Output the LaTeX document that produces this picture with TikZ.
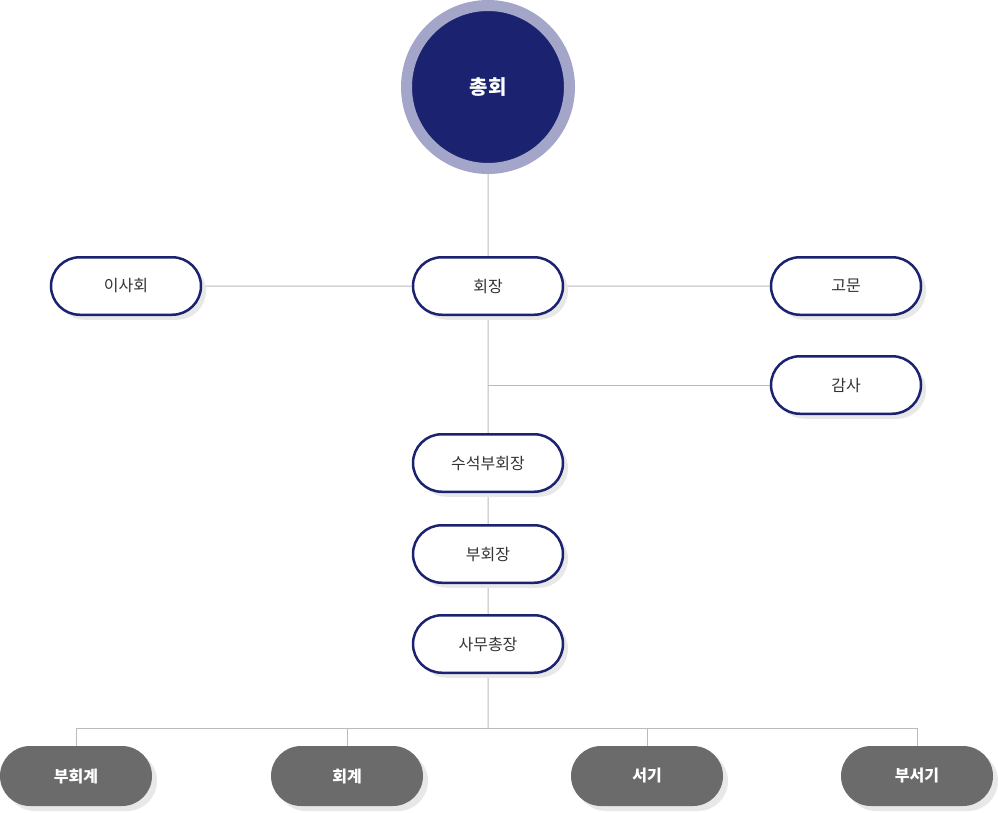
\documentclass[tikz,border=0pt]{standalone}
\usepackage{fontspec}
\setmainfont{Noto Sans CJK KR}
\usetikzlibrary{shapes.misc,shadows,backgrounds}

\definecolor{navy}{HTML}{1B2270}
\definecolor{ringblue}{HTML}{A3A6C8}
\definecolor{pillgray}{HTML}{6B6B6B}
\definecolor{linegray}{HTML}{BBBBBB}
\definecolor{shadowgray}{HTML}{E8E8E8}
\definecolor{textgray}{HTML}{333333}

\tikzset{
  pill/.style={rounded rectangle,minimum width=150pt,minimum height=57.5pt,
    inner sep=0pt,general shadow={shadow xshift=5pt,shadow yshift=-5pt,fill=shadowgray}},
  whitepill/.style={pill,draw=navy,line width=2.5pt,fill=white,text=textgray,font=\fontsize{16}{18}\selectfont},
  graypill/.style={pill,minimum width=152pt,minimum height=60pt,fill=pillgray,text=white,font=\fontsize{16}{18}\selectfont\bfseries},
  link/.style={draw=linegray,line width=1pt}
}

\begin{document}
\begin{tikzpicture}[x=1pt,y=-1pt]
                \useasboundingbox(0,0)rectangle(998,812);
                \node[circle,inner sep=0pt,minimum size=163pt,draw=ringblue,line width=11pt,fill=navy,
                      text=white,font=\fontsize{20}{22}\selectfont\bfseries](chonghoe)at(488,87){총회};
                \node[whitepill](isahoe)at(126,286){이사회};
                \node[whitepill](hoejang)at(488,286){회장};
                \node[whitepill](gomun)at(846,286){고문};
                \node[whitepill](gamsa)at(846,385){감사};
                \node[whitepill](suseok)at(488,463){수석부회장};
                \node[whitepill](buhoejang)at(488,554){부회장};
                \node[whitepill](samu)at(488,644){사무총장};
                \node[graypill](buhoegye)at(76,776){부회계};
                \node[graypill](hoegye)at(347,776){회계};
                \node[graypill](seogi)at(647,776){서기};
                \node[graypill](buseogi)at(917,776){부서기};
                \coordinate(bus)at(488,728);
                \begin{scope}[on background layer]
                    \draw[link](chonghoe)--(hoejang);
                    \draw[link](isahoe)--(hoejang)--(gomun);
                    \draw[link](hoejang)--(suseok)--(buhoejang)--(samu)--(bus);
                    \draw[link](gamsa)--(gamsa-|hoejang);
                    \draw[link](buhoegye)|-(bus)-|(buseogi);
                    \draw[link](hoegye)|-(bus);
                    \draw[link](seogi)|-(bus);
                \end{scope}
            \end{tikzpicture}
\end{document}
